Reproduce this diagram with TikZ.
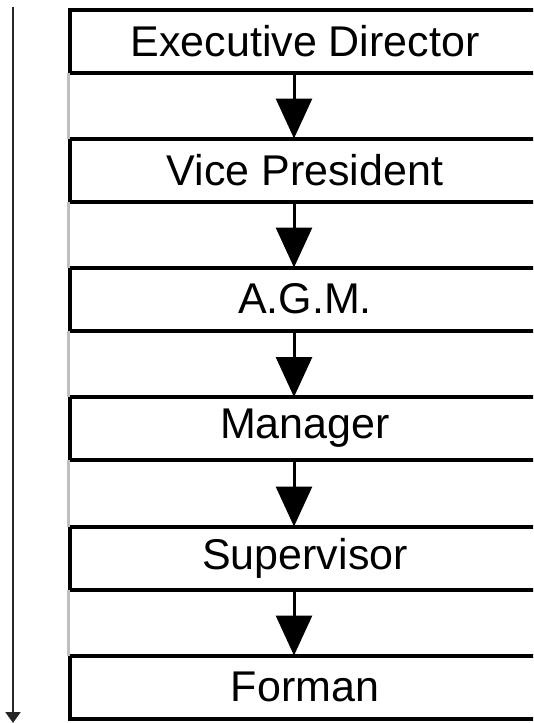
\documentclass[tikz,border=0pt]{standalone}
\usepackage{fontspec}
\setmainfont{Liberation Sans}
\usetikzlibrary{arrows.meta}
\begin{document}
\begin{tikzpicture}[x=1pt,y=-1pt,
  box/.style={draw=black,line width=4pt,rectangle,minimum width=470pt,minimum height=63pt,inner sep=0pt,
    font=\fontsize{43}{50}\selectfont},
  conn/.style={line width=3pt,-{Triangle[width=36pt,length=40pt]}},
  sidelink/.style={draw=black!25,line width=3pt},
  axis/.style={line width=2pt,draw=black!85,-{Triangle[width=15pt,length=11pt]}}]
\fill[white] (0,0) rectangle (533,723);
\useasboundingbox (0,0) rectangle (533,723);
\clip (0,0) rectangle (533,723);
\node[box] (b1) at (305,41) {Executive Director};
\node[box] (b2) at (305,170) {Vice President};
\node[box] (b3) at (305,299) {A.G.M.};
\node[box] (b4) at (305,428.5) {Manager};
\node[box] (b5) at (305,558) {Supervisor};
\node[box] (b6) at (305,687) {Forman};
\foreach \a/\b in {b1/b2,b2/b3,b3/b4,b4/b5,b5/b6}{
  \draw[sidelink] ([yshift=2pt]\a.south west) -- ([yshift=-2pt]\b.north west);
  \draw[conn] ([xshift=-11pt,yshift=2pt]\a.south) -- ([xshift=-11pt,yshift=-2pt]\b.north);
}
\coordinate (atop) at (13,7);
\coordinate (abot) at (13,723);
\draw[axis] (atop) -- (abot);
\end{tikzpicture}
\end{document}
